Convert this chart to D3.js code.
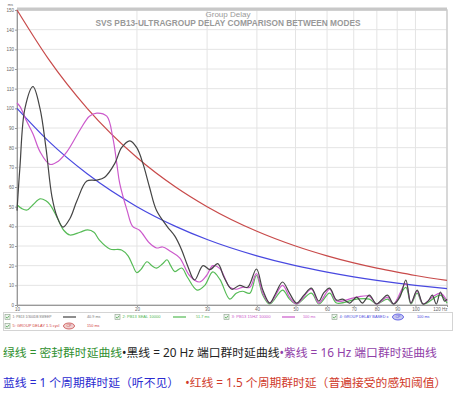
<!DOCTYPE html>
<html>
<head>
<meta charset="utf-8">
<script src="https://cdn.jsdelivr.net/npm/d3@7"></script>
<style>
  body { margin: 0; background: #fff; }
  svg { display: block; }
</style>
</head>
<body>
<svg id="chart" width="461" height="399"></svg>
<script>
"use strict"

// chart titles
const titleTop = "Group Delay"
const titleMain = "SVS PB13-ULTRAGROUP DELAY COMPARISON BETWEEN MODES"

// axis ticks
const yTicks = [0, 10, 20, 30, 40, 50, 60, 70, 80, 90, 100, 110, 120, 130, 140, 150]
const xTicks = [10, 20, 30, 40, 50, 60, 70, 80, 90, 100, 120]
const xTickLabels = ["10", "20", "30", "40", "50", "60", "70", "80", "90", "100", "120 Hz"]

// 1: PB13 1/300DB SWEEP (black)
const blackHz = [10, 10.17, 10.47, 10.97, 11.42, 11.82, 12.24, 12.6, 13.04, 13.58, 14.14, 14.97, 15.86, 16.6, 17.6, 18.3, 19.2, 19.98, 20.7, 21.5, 22.4, 23.8, 24.9, 25.9, 26.8, 27.9, 29.3, 30.5, 31.9, 33.1, 34.6, 36.2, 37.9, 39.9, 41.4, 43.1, 44.6, 46.4, 48.3, 50.3, 52.5, 54.8, 57.2, 58.8, 60.9, 63.4, 65.6, 68.4, 71.2, 73.6, 76.6, 79.8, 82.6, 85.1, 88.1, 91.4, 94.6, 97.4, 101, 104.5, 107.6, 110.2, 112.8, 115.5, 118.3, 120]
const blackMs = [48, 70, 100, 111, 100, 80, 55, 45, 39.6, 44, 53, 63, 63.5, 65, 72, 80, 83.5, 80, 72, 60, 48, 40, 35, 28, 20, 12.7, 20, 18, 21, 14, 8, 10, 9, 18.3, 7.6, 1, 6, 11.7, 6, 1, 5, 8.6, 2, 6, 8.6, 2.5, 3, 1, 4, 1, 5, 0.5, 3, 5, 0.5, 4, 12.7, 1, 7.6, 0.5, 2, 5, 0.5, 6.6, 2, 3]

// 2: PB13 SEAL 10000 (green)
const greenHz = [10, 10.29, 10.6, 10.97, 11.42, 11.82, 12.1, 12.5, 12.8, 13.1, 13.58, 14.39, 15.05, 15.6, 16.1, 17.1, 18.3, 19.0, 19.5, 19.98, 20.45, 21.2, 21.8, 22.4, 23.2, 23.8, 24.3, 24.9, 25.9, 26.8, 28.3, 29.6, 31.0, 32.3, 34.2, 35.5, 36.8, 38.4, 39.9, 41.4, 43.1, 46.4, 48.3, 50.3, 54.8, 57.2, 60.9, 63.4, 71.2, 76.6, 79.8, 85.1, 88.1, 94.6, 97.4, 101, 104.5, 115.5, 120]
const greenMs = [51, 49, 48.3, 51, 54, 53, 51, 46, 41.7, 38, 35.6, 37, 38.2, 37, 33, 28.5, 28, 25, 20.3, 16.5, 18, 22, 20, 18.8, 21, 23, 20, 17, 18.8, 14, 7.6, 10, 16.8, 13, 3, 6, 7, 6, 15, 5, 0.5, 7.6, 3, 0.5, 6, 0.5, 6, 1, 3, 3, 0.5, 3, 0.5, 9, 0.5, 6, 0.5, 5, 1]

// 3: PB13 15HZ 10000 (magenta)
const magentaHz = [10, 10.17, 10.6, 10.97, 11.42, 12.1, 12.67, 13.35, 14.39, 15.2, 15.86, 16.8, 17.4, 17.8, 18.1, 18.9, 19.5, 20.3, 21.5, 22.4, 23.2, 24.2, 25.6, 27.1, 28.7, 29.9, 31.0, 32.3, 34.2, 35.5, 36.8, 38.4, 39.9, 41.4, 43.1, 46.4, 48.3, 50.3, 54.8, 57.2, 60.9, 63.4, 71.2, 76.6, 79.8, 85.1, 88.1, 94.6, 97.4, 101, 104.5, 110.2, 115.5, 120]
const magentaMs = [102.7, 101, 93, 87, 78, 71.5, 73, 78, 89, 96, 97.6, 96, 85, 72, 62, 48, 40, 38, 31.5, 29, 29.5, 27.5, 24, 15, 11.7, 15, 20, 18.5, 9, 8, 9, 9, 16, 6, 1, 10, 4, 0.5, 8, 1, 8, 2, 4, 4.5, 0.5, 4, 0.5, 11, 1, 7, 0.5, 4, 6, 2]

// 4: group delay 1 cycle (blue) and 5: 1.5 cycles (red)
const cycleHz = [10, 12, 15, 20, 25, 30, 40, 50, 60, 70, 80, 90, 100, 120]
const blueMs = [100, 83.3, 66.7, 50, 40, 33.3, 25, 20, 16.7, 14.3, 12.5, 11.1, 10, 8.3]
const redMs = [150, 125, 100, 75, 60, 50, 37.5, 30, 25, 21.4, 18.75, 16.7, 15, 12.5]

// legend entries
const legendNames = ["1: PB13 1/300DB SWEEP", "2: PB13 SEAL 10000", "3: PB13 15HZ 10000", "4: GROUP DELAY BASED x", "5: GROUP DELAY 1.5 cycl"]
const legendValues = ["40.9 ms", "51.7 ms", "100 ms", "100 ms", "150 ms"]

// caption lines (Chinese)
const captionLine1 = [
  { text: "绿线 = 密封群时延曲线", color: "#2f8f2f" },
  { text: "•黑线 = 20 Hz 端口群时延曲线", color: "#222" },
  { text: "•紫线 = 16 Hz 端口群时延曲线", color: "#9040a8" }
]
const captionLine2 = [
  { text: "蓝线 = 1 个周期群时延（听不见）", color: "#2a2ad0" },
  { text: "  •红线 = 1.5 个周期群时延（普遍接受的感知阈值）", color: "#d03a2a" }
]

const colors = {
  black: "#444444",
  green: "#56bb56",
  magenta: "#cc5acc",
  blue: "#4848e0",
  red: "#c84a4a"
}

const svg = d3.select("#chart")
const margins = { left: 17, right: 14, top: 10, bottom: 94 }
const width = 461 - margins.left - margins.right
const height = 399 - margins.top - margins.bottom
const smallFont = "Arial, 'Liberation Sans', sans-serif"

const xScale = d3.scaleLog().domain([10, 120]).range([margins.left, margins.left + width])
const yScale = d3.scaleLinear().domain([0, 150]).range([margins.top + height, margins.top])

svg.append("rect").attr("width", 461).attr("height", 399).attr("fill", "#fff")

// grid
svg.append("g").selectAll("line")
  .data(yTicks)
  .enter().append("line")
  .attr("x1", margins.left).attr("x2", margins.left + width)
  .attr("y1", d => yScale(d)).attr("y2", d => yScale(d))
  .attr("stroke", "#e4e4e4").attr("stroke-width", 1)

svg.append("g").selectAll("line")
  .data(xTicks)
  .enter().append("line")
  .attr("x1", d => xScale(d)).attr("x2", d => xScale(d))
  .attr("y1", margins.top).attr("y2", margins.top + height)
  .attr("stroke", "#e4e4e4").attr("stroke-width", 1)

// frame
svg.append("rect")
  .attr("x", margins.left).attr("y", margins.top)
  .attr("width", width).attr("height", height)
  .attr("fill", "none").attr("stroke", "#cfcfcf").attr("stroke-width", 1.5)
svg.append("line")
  .attr("x1", margins.left).attr("x2", margins.left + width)
  .attr("y1", margins.top - 1).attr("y2", margins.top - 1)
  .attr("stroke", "#c8c8c8").attr("stroke-width", 3)

// axes
const yAxis = d3.axisLeft(yScale).tickValues(yTicks).tickSize(2).tickPadding(1)
svg.append("g")
  .attr("transform", "translate(" + margins.left + ",0)")
  .call(yAxis)
  .call(g => g.select(".domain").attr("stroke", "#999"))
  .call(g => g.selectAll(".tick line").attr("stroke", "#999"))
  .selectAll("text")
  .style("font-size", "4.5px")
  .style("font-family", smallFont)
  .attr("fill", "#666")

svg.append("text")
  .attr("x", 13).attr("y", 6)
  .attr("text-anchor", "end")
  .style("font-size", "4px")
  .style("font-family", smallFont)
  .attr("fill", "#666")
  .text("ms")

const xAxis = d3.axisBottom(xScale).tickValues(xTicks).tickSize(2).tickPadding(1)
  .tickFormat((d, i) => xTickLabels[i])
svg.append("g")
  .attr("transform", "translate(0," + (margins.top + height) + ")")
  .call(xAxis)
  .call(g => g.select(".domain").attr("stroke", "#999"))
  .call(g => g.selectAll(".tick line").attr("stroke", "#999"))
  .selectAll("text")
  .style("font-size", "4.5px")
  .style("font-family", smallFont)
  .attr("fill", "#666")
  .style("text-anchor", (d, i) => i === xTicks.length - 1 ? "end" : "middle")

// titles
svg.append("text")
  .attr("x", 228).attr("y", 17)
  .attr("text-anchor", "middle")
  .style("font-size", "8px")
  .style("font-family", smallFont)
  .attr("fill", "#999")
  .text(titleTop)
svg.append("text")
  .attr("x", 228).attr("y", 26)
  .attr("text-anchor", "middle")
  .style("font-size", "8.3px")
  .style("font-weight", "bold")
  .style("font-family", smallFont)
  .attr("fill", "#999")
  .text(titleMain)

// curves
const plot = svg.append("g")
function drawSeries(hz, ms, color, curve) {
  const pts = hz.map((f, i) => [f, ms[i]])
  const line = d3.line()
    .x(d => xScale(d[0]))
    .y(d => yScale(d[1]))
    .curve(curve)
  plot.append("path")
    .datum(pts)
    .attr("d", line)
    .attr("fill", "none")
    .attr("stroke", color)
    .attr("stroke-width", 1.2)
}

drawSeries(cycleHz, redMs, colors.red, d3.curveMonotoneX)
drawSeries(cycleHz, blueMs, colors.blue, d3.curveMonotoneX)
drawSeries(greenHz, greenMs, colors.green, d3.curveCatmullRom.alpha(0.5))
drawSeries(magentaHz, magentaMs, colors.magenta, d3.curveCatmullRom.alpha(0.5))
drawSeries(blackHz, blackMs, colors.black, d3.curveCatmullRom.alpha(0.5))

// legend
const legend = svg.append("g")
legend.append("rect")
  .attr("x", 3.5).attr("y", 312.5).attr("width", 449).attr("height", 18)
  .attr("fill", "#fff").attr("stroke", "#d4d4d4")

const legendColors = [colors.black, colors.green, colors.magenta, colors.blue, colors.red]
const legendTextColors = ["#777", "#52b852", "#cc5acc", "#4848e0", "#d04040"]
const legendPos = [
  { x: 7, y: 317, nameW: 39, lineX: 63, valX: 87, icon: false },
  { x: 117, y: 317, nameW: 38, lineX: 173, valX: 196, icon: false },
  { x: 226, y: 317, nameW: 39, lineX: 282, valX: 303, icon: false },
  { x: 334, y: 317, nameW: 49, lineX: 0, valX: 417, icon: true, iconX: 398 },
  { x: 7, y: 326, nameW: 47, lineX: 0, valX: 87, icon: true, iconX: 69 }
]

legendPos.forEach((p, i) => {
  legend.append("rect")
    .attr("x", p.x - 2).attr("y", p.y - 2.5).attr("width", 5).attr("height", 5)
    .attr("fill", "#eef4ee").attr("stroke", "#8aa08a").attr("stroke-width", 0.6)
  legend.append("path")
    .attr("d", "M" + (p.x - 1) + "," + p.y + "l1.2,1.2l2,-2.4")
    .attr("fill", "none").attr("stroke", "#3a9a3a").attr("stroke-width", 0.7)
  legend.append("text")
    .attr("x", p.x + 5.5).attr("y", p.y + 1.4)
    .style("font-size", "3.8px")
    .style("font-family", smallFont)
    .attr("fill", legendTextColors[i])
    .attr("textLength", p.nameW)
    .attr("lengthAdjust", "spacingAndGlyphs")
    .text(legendNames[i])
  if (!p.icon) {
    legend.append("line")
      .attr("x1", p.lineX).attr("x2", p.lineX + 13)
      .attr("y1", p.y).attr("y2", p.y)
      .attr("stroke", legendColors[i]).attr("stroke-width", 1.2)
  } else {
    legend.append("ellipse")
      .attr("cx", p.iconX).attr("cy", p.y).attr("rx", 5.5).attr("ry", 3)
      .attr("fill", i === 3 ? "#c8c8f0" : "#f0d0d0")
      .attr("stroke", legendColors[i]).attr("stroke-width", 0.8)
    legend.append("text")
      .attr("x", p.iconX).attr("y", p.y + 1.4)
      .attr("text-anchor", "middle")
      .style("font-size", "3.6px")
      .style("font-family", smallFont)
      .attr("fill", legendColors[i])
      .text("CP")
  }
  legend.append("text")
    .attr("x", p.valX).attr("y", p.y + 1.4)
    .style("font-size", "3.8px")
    .style("font-family", smallFont)
    .attr("fill", legendTextColors[i])
    .text(legendValues[i])
})

// captions
function drawCaption(parts, y) {
  const t = svg.append("text")
    .attr("x", 3).attr("y", y)
    .style("font-size", "11.8px")
    .style("font-family", "'Noto Sans', 'Noto Sans CJK SC', sans-serif")
    .attr("xml:space", "preserve")
    .style("white-space", "pre")
  parts.forEach(p => {
    t.append("tspan").attr("fill", p.color).text(p.text)
  })
}
drawCaption(captionLine1, 357)
drawCaption(captionLine2, 387)
</script>
</body>
</html>
